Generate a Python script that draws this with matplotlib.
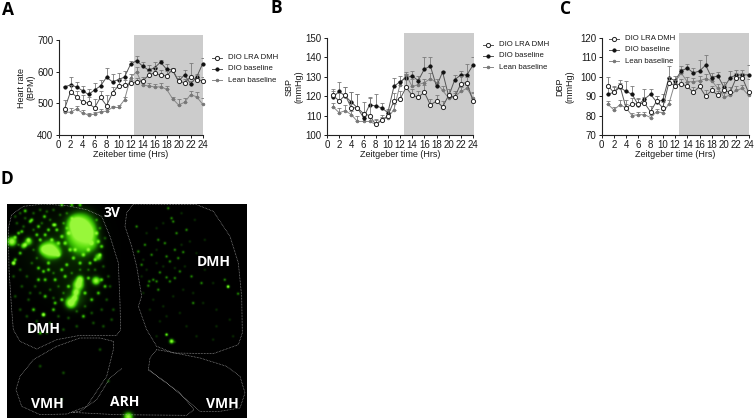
import numpy as np
import matplotlib
matplotlib.use("Agg")
import matplotlib.pyplot as plt
from matplotlib.colors import LinearSegmentedColormap

hours = list(range(1, 25))
legend_labels = ["DIO LRA DMH", "DIO baseline", "Lean baseline"]

hr_lra = [482,536,521,505,500,486,519,493,533,556,557,563,568,571,588,597,588,587,606,570,565,583,574,572]
hr_dio = [552,558,552,540,528,542,555,582,568,575,583,623,635,618,605,612,630,608,605,570,590,562,582,624]
hr_lean = [472,472,482,470,463,466,474,475,487,487,511,580,600,558,555,552,552,545,515,495,503,527,521,498]
hr_lra_err = [30,22,18,22,20,28,20,32,20,20,18,12,12,12,14,18,16,14,6,10,12,45,14,12]
hr_dio_err = [4,24,15,14,18,22,18,30,26,20,18,12,16,14,16,20,6,16,6,16,14,8,10,18]
hr_lean_err = [5,12,10,8,6,6,8,8,6,8,10,12,14,12,10,8,12,10,6,20,14,12,14,20]

sbp_lra = [120.5,117.5,120.5,114,114,111,110,105.5,107.5,110,117.5,118.5,124.5,120.5,119.5,122,115.5,117.5,114.5,120.5,119.5,126.5,127,117.5]
sbp_dio = [119.5,122.5,120,117,114,109,115.5,115,114,111.5,125,127.5,129.5,130.5,128,134,135.5,125,132.5,120,128.5,131,131,136]
sbp_lean = [114.5,111.5,112.5,110.5,107,107,107,105.5,108,109,113,126,131,125,126,127,129,127,123,119,119.5,122.5,124,119]
sbp_lra_err = [3,4,4,8,7,6,9,3,3,3,4,4,7,3,3,4,3,3,3,3,3,4,3,4]
sbp_dio_err = [3,5,4.5,5,7,3,4,6,2.5,2,4.5,3,2,2.5,2.5,6,4.5,2.5,0.5,1.5,2.5,2,5.5,4]
sbp_lean_err = [2,2.5,3,2,3,3,2,2,1.5,1.5,3,2,1.5,4,3,2,3,2,2,2,2,2,2,3]

dbp_lra = [95.5,92,95.5,84,86,86,86.5,82,87.5,84,97,95.5,96.5,95,92,95,90,93,90.5,93,92,99.5,99.5,92]
dbp_dio = [91,92,94.5,92.5,91,85.5,88.5,91,87,88,99.5,98,103,104.5,102,103,106,99.5,100.5,94.5,99.5,101,101,101]
dbp_lean = [86,83,85.5,84,80,80.5,80.5,79,82,81.5,86,97,102,97.5,97.5,98,99,98,94,89.5,90.5,93,94,90.5]
dbp_lra_err = [4.5,3.5,3,4,3,3,3,3,2.5,3,3,3,2.5,2.5,2.5,3,3,2.5,2,3,2.5,2.5,2.5,7]
dbp_dio_err = [5,2.5,2.5,5.5,4.5,3,5,2.5,3,3,6,2.5,2.5,2,2.5,5.5,5,2.5,2,3,3.5,2.5,2.5,5]
dbp_lean_err = [1.5,1.5,2.5,2,1.5,1.5,1.5,1.5,1.5,1.5,2,2,2,2.5,2,2.5,2.5,2.5,2.5,2,2,2,2,2]

# microscopy panel, all read in reference crop coordinates: (x, y, radius, strength)
blobs = [(245,170,24,1.3),(225,160,14,.7),(265,190,15,.7),(150,240,16,1.3),(130,238,9,.6),(170,250,9,.6),
         (235,345,10,1.1),(228,368,7,.9),(240,328,7,.9),(212,400,10,1.1),(224,385,6,.8),(288,333,8,1.0),
         (35,215,9,1.1),(245,228,24,.5),(220,200,20,.35),(275,220,16,.4),(85,215,8,.7),(70,228,6,.7),
         (295,262,7,.7),(225,385,20,.25),(175,235,75,.1),(230,340,45,.07),(130,435,4,.6),(515,515,4.5,1.0),
         (500,495,3,.7),(685,350,3,.7),(385,742,9,1.0),(40,280,4,.7)]
bright_left = [(75,123),(133,140),(90,155),(65,185),(55,190),(45,202),(85,210),(75,225),(60,250),(45,270),(40,280),(120,210),
               (135,195),(160,165),(170,180),(185,200),(205,190),(195,220),(210,240),(175,255),(200,285),(145,280),(165,165),
               (225,240),(250,255),(265,240),(300,255),(285,270),(270,280),(295,215),(290,190),(305,230),(275,220),(215,105),
               (240,105),(185,105),(145,300),(130,305),(115,295),(195,320),(165,330),(135,330),(205,350),(265,325),(255,370),
               (305,330),(315,350),(275,390),(295,370),(185,390),(165,400),(135,380),(115,330),(95,150),(115,170),(110,195),
               (145,180),(175,220),(155,210),(220,265),(240,280),(185,300),(130,435),(120,490),(100,420),(160,420),(250,440)]
dim_left = [(45,140),(60,130),(75,145),(100,130),(120,120),(140,125),(160,120),(180,135),(200,130),(215,145),(290,150),(300,175),
            (315,205),(50,160),(70,170),(100,180),(125,160),(150,150),(190,160),(200,175),(55,225),(100,240),(110,265),(95,280),
            (60,300),(40,320),(80,320),(105,350),(65,350),(45,380),(85,390),(120,370),(150,360),(175,350),(190,370),(160,310),
            (215,310),(240,300),(265,300),(285,300),(310,290),(325,320),(330,350),(320,390),(340,420),(305,420),(275,430),
            (230,425),(205,445),(175,440),(150,460),(110,455),(80,440),(60,420),(90,480),(140,490),(190,480),(230,470),(280,460),
            (310,470),(335,450),(190,610),(120,590),(325,635),(300,540),(185,690),(255,410),(160,385),(90,370)]
bright_right = [(515,145),(410,170),(530,190),(520,155),(560,180),(550,247),(525,240),(510,275),(535,265),(500,260),(480,308),
                (448,335),(470,335),(500,323),(525,325),(510,335),(540,305),(415,245),(435,225),(460,330),(445,348),(475,360),
                (685,352),(715,372),(675,330),(505,115),(580,400),(575,320),(605,340),(495,220),(475,210),(455,255),(425,285)]
dim_right = [(425,320),(440,300),(490,290),(470,280),(555,290),(525,295),(440,190),(470,175),(490,160),(545,130),(570,215),
             (590,250),(615,300),(640,340),(430,370),(460,390),(490,410),(520,380),(550,360),(580,370),(610,400),(650,420),
             (690,450),(700,500),(650,470),(590,500),(560,470),(540,430),(480,455),(450,420),(500,495),(525,517),(430,270),
             (470,240),(545,225),(585,150),(615,210),(500,440),(470,500),(640,510)]

fig_w, fig_h = 754, 420
hour_ticks = list(range(0, 25, 2))
C_DIO, C_LEAN = "#111111", "#777777"
TXT = "#1a1a1a"
plt.rcParams["font.family"] = ["Liberation Sans", "DejaVu Sans"]

fig = plt.figure(figsize=(7.54, 4.2), dpi=100, facecolor="white")

def rect(l, t, r, b):
    return [l / fig_w, 1 - b / fig_h, (r - l) / fig_w, (b - t) / fig_h]

def panel(box, ylim, yticks, lra, dio, lean, e1, e2, e3, ylabel, xlabel, shade_start, leg_xy, ypad):
    ax = fig.add_axes(rect(*box))
    ax.set_xlim(0, 24)
    ax.set_ylim(*ylim)
    ax.axvspan(shade_start, 24.1, ymin=0, ymax=1.05, color="#cccccc", lw=0, zorder=0, clip_on=False)
    series = [(lean, e3, "#888888", C_LEAN, C_LEAN, 1.8), (dio, e2, "#555555", C_DIO, C_DIO, 2.3), (lra, e1, "#555555", "#222222", "white", 3.0)]
    styles = []
    for z, (v, e, lc, mec, mfc, ms) in enumerate(series):
        ax.errorbar(hours, v, yerr=[np.zeros(len(e)), e], fmt="none", ecolor="#7a7a7a",
                    elinewidth=0.6, capsize=1.6, capthick=0.6, zorder=2 + z)
        ax.plot(hours, v, "-", color=lc, lw=0.7, marker="o", ms=ms, mfc=mfc, mec=mec, mew=0.7, zorder=3 + z, clip_on=False)
        styles.append((lc, mec, mfc, ms))
    for s in ("top", "right"):
        ax.spines[s].set_visible(False)
    for s in ("left", "bottom"):
        ax.spines[s].set_linewidth(0.8)
        ax.spines[s].set_color("#222222")
    ax.set_xticks(hour_ticks)
    ax.set_yticks(yticks)
    ax.tick_params(length=2.5, width=0.7, pad=1.2, labelsize=7, colors=TXT)
    ax.set_xlabel(xlabel, fontsize=6.5, labelpad=0.2, color=TXT)
    ax.set_ylabel(ylabel, fontsize=6.5, labelpad=ypad, color=TXT, linespacing=1.15)
    for i, lab in enumerate(legend_labels):
        lc, mec, mfc, ms = styles[2 - i]
        lx, ly = leg_xy[0], leg_xy[1] + i * 11.4
        yf = 1 - ly / fig_h
        fig.add_artist(plt.Line2D([lx / fig_w, (lx + 10) / fig_w], [yf, yf], color=lc, lw=0.7))
        fig.add_artist(plt.Line2D([(lx + 5) / fig_w], [yf], marker="o", ms=ms, mfc=mfc, mec=mec, mew=0.7, lw=0))
        fig.text((lx + 16) / fig_w, yf, lab, fontsize=5.6, va="center", ha="left", color=TXT)

panel((58.5, 40, 202.5, 135), (400, 700), [400, 500, 600, 700], hr_lra, hr_dio, hr_lean, hr_lra_err, hr_dio_err, hr_lean_err,
      "Heart rate\n(BPM)", "Zeiteber time (Hrs)", 12.5, (212, 57.5), 1.0)
panel((327, 38, 473, 135), (100, 150), [100, 110, 120, 130, 140, 150], sbp_lra, sbp_dio, sbp_lean, sbp_lra_err, sbp_dio_err, sbp_lean_err,
      "SBP\n(mmHg)", "Zeitgeber time (Hrs)", 12.6, (483, 44.5), 1.5)
panel((601.5, 38, 748.5, 135), (70, 120), [70, 80, 90, 100, 110, 120], dbp_lra, dbp_dio, dbp_lean, dbp_lra_err, dbp_dio_err, dbp_lean_err,
      "DBP\n(mmHg)", "Zeitgeber time (Hrs)", 12.7, (609, 38.5), 4.0)

for lab, x, y in [("A", 2, 10), ("B", 271, 8), ("C", 560, 9), ("D", 0, 179)]:
    fig.text(x / fig_w, 1 - y / fig_h, lab, fontsize=12.5, fontweight="bold", family="Open Sans", color="black", va="center", ha="left")

# Panel D
axd = fig.add_axes(rect(7, 204, 247, 418))
X0, X1, Y0, Y1 = 21, 741, 745, 103
xx, yy = np.meshgrid(np.linspace(X0, X1, 480), np.linspace(Y1, Y0, 428))
img = np.zeros_like(xx)

def add_spots(spots):
    global img
    for x, y, r, a in spots:
        img += a * np.exp(-((xx - x) ** 2 + (yy - y) ** 2) / (2 * r ** 2))

add_spots(blobs)
add_spots([(x, y, 3.6, .6) for x, y in bright_left])
add_spots([(x, y, 3.0, .3) for x, y in dim_left])
add_spots([(x, y, 2.8, .45) for x, y in bright_right])
add_spots([(x, y, 2.6, .18) for x, y in dim_right])
cm = LinearSegmentedColormap.from_list("gfp", ["#000000", "#0e4400", "#2fb000", "#5fe010", "#98f83a"])
axd.imshow(np.clip(img, 0, 1), cmap=cm, vmin=0, vmax=1, extent=(X0, X1, Y0, Y1), aspect="auto", interpolation="bilinear")
axd.set_xlim(X0, X1)
axd.set_ylim(Y0, Y1)
axd.axis("off")

outlines = [
    [(130,103),(70,110),(35,135),(25,175),(27,300),(35,420),(40,480),(60,515),(110,538),(170,510),(240,497),(350,497),(362,480),(360,400),(355,280),(330,200),(305,140),(260,120),(200,108),(130,103)],
    [(400,103),(380,130),(375,170),(395,230),(410,290),(425,380),(415,410),(440,480),(470,530),(520,550),(640,552),(715,525),(727,490),(725,380),(715,280),(690,200),(640,125),(590,105),(400,103)],
    [(340,515),(300,505),(240,505),(170,530),(100,570),(60,620),(48,660),(65,710),(120,735),(200,733),(260,710),(320,620),(340,540),(340,515)],
    [(470,540),(450,565),(445,600),(500,640),(560,690),(600,725),(660,725),(720,715),(735,670),(720,620),(680,590),(600,565),(500,545),(470,540)],
    [(365,597),(330,625),(290,690),(240,725),(215,728),(350,735),(560,737),(582,720),(540,670),(445,600)],
]
for o in outlines:
    xs, ys = zip(*o)
    axd.plot(xs, ys, color="#a8a8a8", lw=0.5, ls=(0, (1, 1.2)))
for lab, x, y in [("3V", 335, 130), ("DMH", 642, 277), ("DMH", 132, 477), ("VMH", 142, 703), ("ARH", 375, 697), ("VMH", 667, 703)]:
    axd.text(x, y, lab, color="white", fontsize=10, fontweight="bold", family="Open Sans", ha="center", va="center")

fig.savefig("out.png", dpi=100, facecolor="white")
